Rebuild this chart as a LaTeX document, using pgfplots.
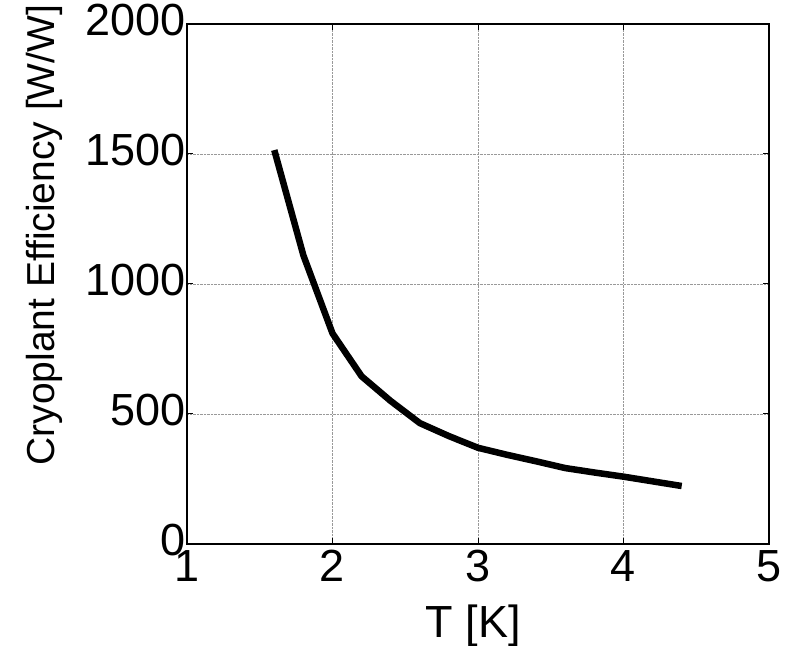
\documentclass[border=0pt]{standalone}
\usepackage{fontspec}
\setmainfont{Liberation Sans}
\usepackage{pgfplots}
\pgfplotsset{compat=1.18}
\begin{document}
\begin{tikzpicture}
\begin{axis}[
  name=ax,
  scale only axis,
  width=582pt, height=520pt,
  xmin=1, xmax=5, ymin=0, ymax=2000,
  xtick={1,2,3,4,5},
  ytick={0,500,1000,1500,2000},
  /pgf/number format/assume math mode=true,
  scaled y ticks=false,
  yticklabel style={/pgf/number format/1000 sep={}, xshift=2pt, yshift=4pt},
  xticklabel style={yshift=-3pt},
  ticklabel style={font=\fontsize{45}{52}\selectfont},
  tick align=inside,
  xtick pos=both, ytick pos=both,
  major tick length=6pt,
  tick style={black, line width=1pt},
  axis line style={black, line width=1.5pt},
  grid=major,
  major grid style={densely dotted, gray!80, line width=0.9pt},
  xlabel={T [K]},
  ylabel={Cryoplant Efficiency [W/W]},
  xlabel style={font=\fontsize{45}{50}\selectfont, at={(axis description cs:0.492,-0.158)}, anchor=center},
  ylabel style={font=\fontsize{39}{45}\selectfont, at={(axis description cs:-0.245,0.594)}, anchor=center},
]
\addplot[black, line width=6.5pt, line cap=butt, line join=round] coordinates {
(1.6,1515) (1.8,1110) (2.0,810) (2.2,645) (2.4,550) (2.6,465) (2.8,415)
(3.0,370) (3.2,343) (3.4,318) (3.6,292) (3.8,275) (4.0,259) (4.2,241) (4.4,223)
};
\end{axis}
\pgfresetboundingbox
\path[use as bounding box] ([shift={(-187pt,-102pt)}]ax.south west) rectangle ([shift={(23pt,24pt)}]ax.north east);
\end{tikzpicture}
\end{document}
